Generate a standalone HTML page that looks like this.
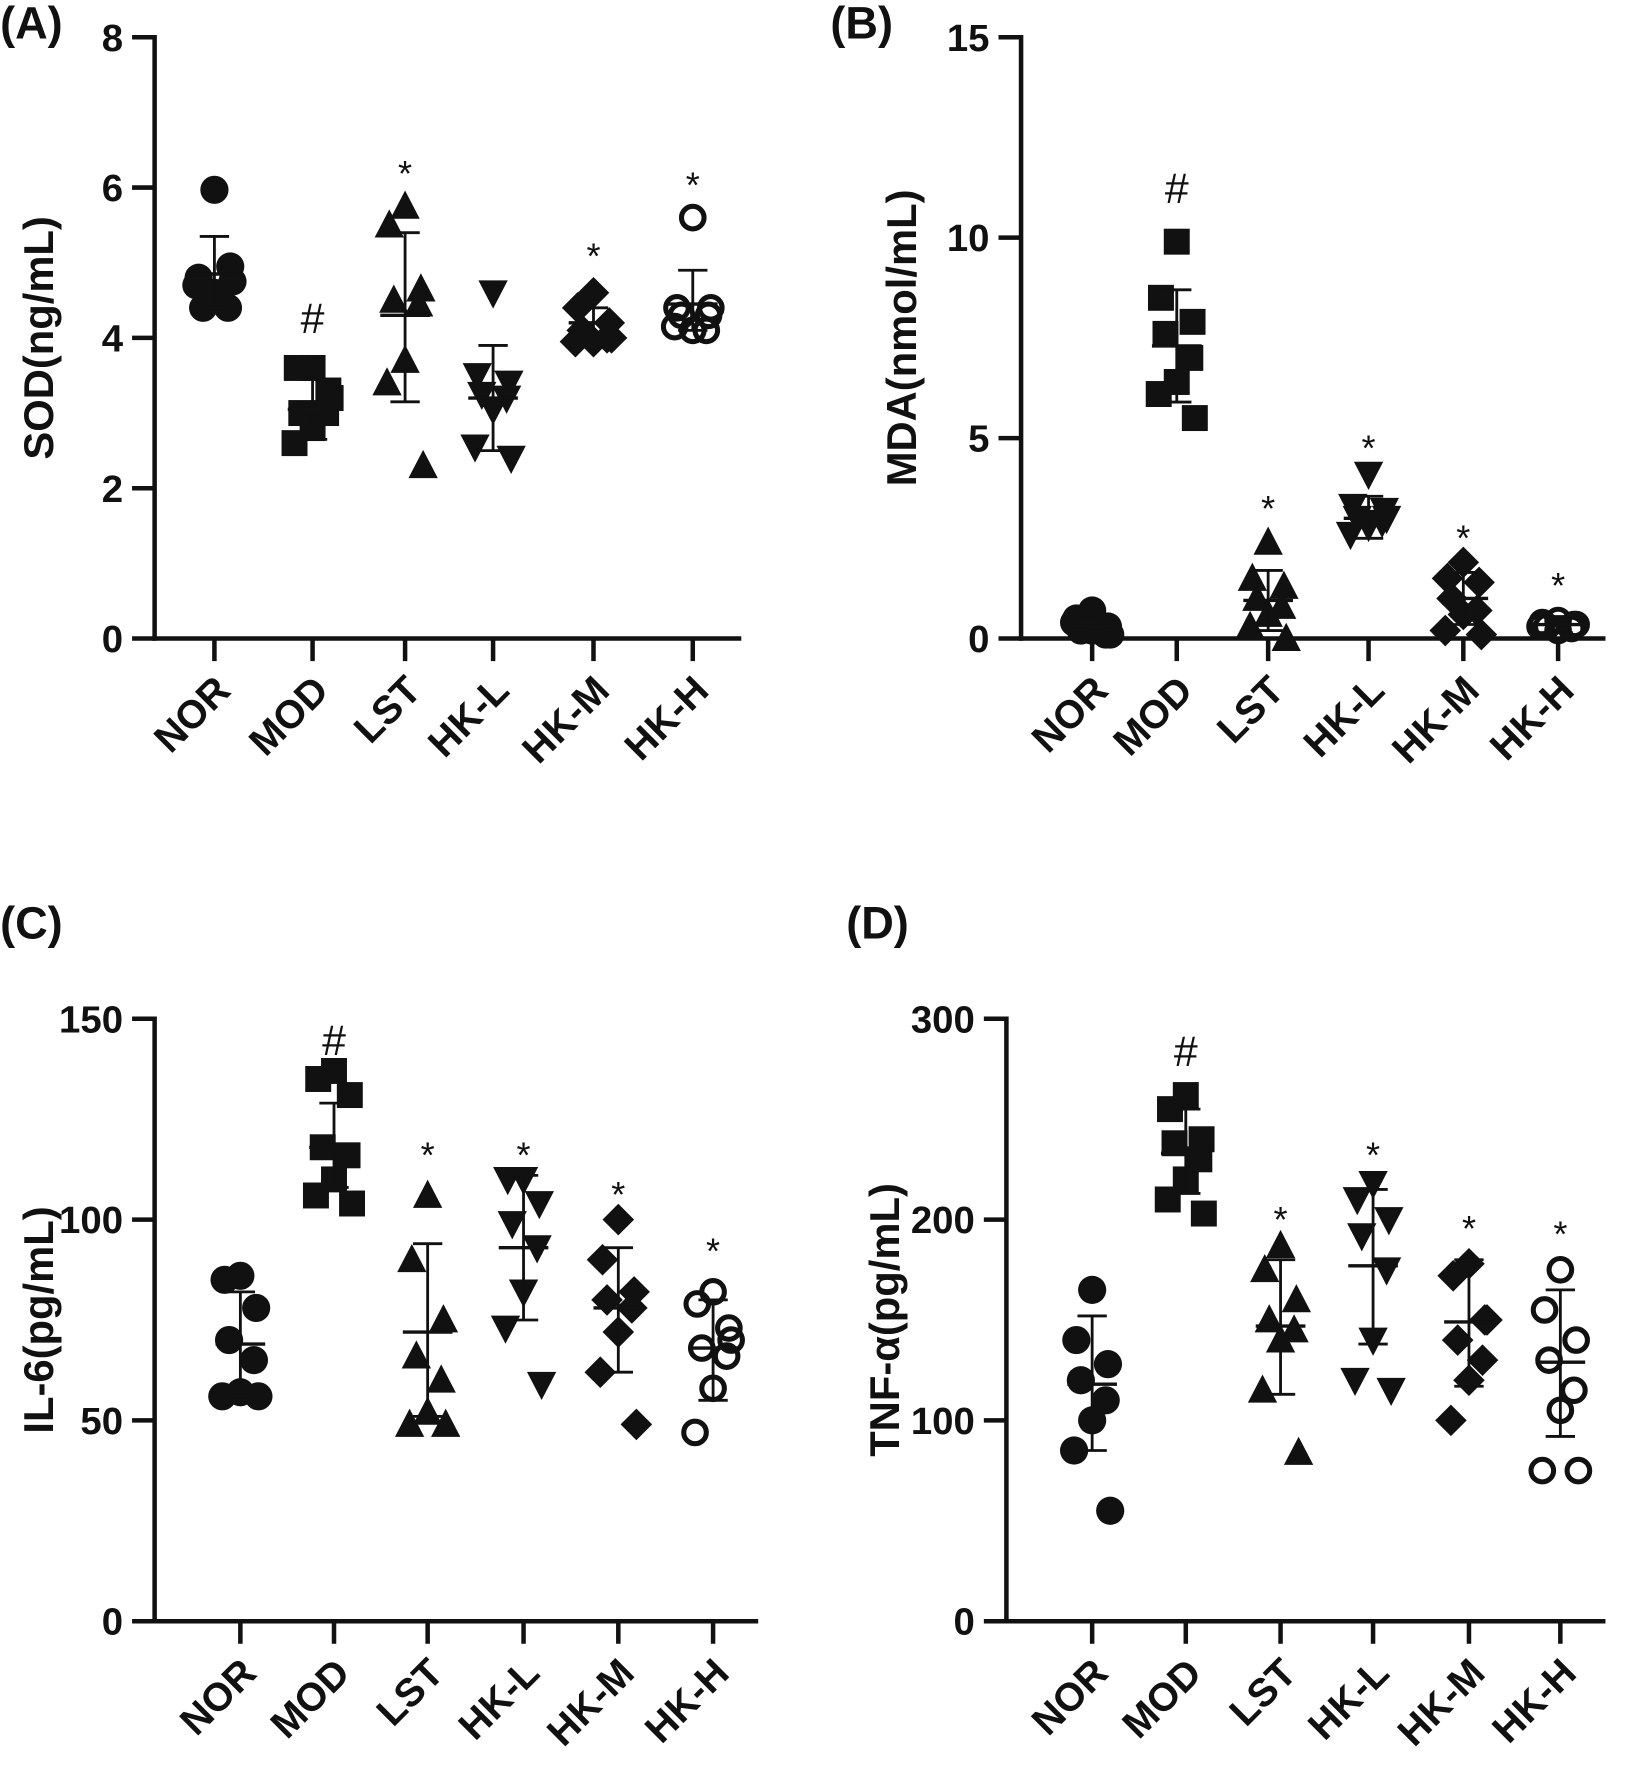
<!DOCTYPE html>
<html><head><meta charset="utf-8"><style>
html,body{margin:0;padding:0;background:#fff}
svg{display:block}
text{font-family:"Liberation Sans",Arial,sans-serif;font-weight:bold;fill:#111}
</style></head><body>
<svg id="s" width="1636" height="1769" viewBox="0 0 1450 1568" xmlns="http://www.w3.org/2000/svg"></svg>
<script>
const s=document.getElementById('s');let h='';
const cats=['NOR','MOD','LST','HK-L','HK-M','HK-H'];
const shapes=['c','s','t','v','d','o'];
function mk(sh,x,y){const r=12.5;
 if(sh=='c')return `<circle cx="${x}" cy="${y}" r="${r}" fill="#111"/>`;
 if(sh=='o')return `<circle cx="${x}" cy="${y}" r="${r-2.5}" fill="none" stroke="#111" stroke-width="4.5"/>`;
 if(sh=='s')return `<rect x="${x-r+1}" y="${y-r+1}" width="${2*r-2}" height="${2*r-2}" fill="#111"/>`;
 if(sh=='t')return `<polygon points="${x},${y-14} ${x-13},${y+11} ${x+13},${y+11}" fill="#111"/>`;
 if(sh=='v')return `<polygon points="${x},${y+14} ${x-13},${y-11} ${x+13},${y-11}" fill="#111"/>`;
 if(sh=='d')return `<polygon points="${x},${y-14} ${x-14},${y} ${x},${y+14} ${x+14},${y}" fill="#111"/>`;}
const offs=[0,-14,14,-10,12,0,-16,16];
function panel(p){
 const {ax,top,bot,x2,max,step,xs,lab,labx,ylab,data,marks}=p;
 const sc=v=>bot-(v/max)*(bot-top);
 h+=`<text x="${lab[2]}" y="${lab[1]}" font-size="40">${lab[0]}</text>`;
 h+=`<line x1="${ax}" y1="${top-2}" x2="${ax}" y2="${bot+2}" stroke="#111" stroke-width="4"/>`;
 h+=`<line x1="${ax-2}" y1="${bot}" x2="${x2}" y2="${bot}" stroke="#111" stroke-width="4"/>`;
 for(let v=0;v<=max;v+=step){const y=sc(v);
  h+=`<line x1="${ax-20}" y1="${y}" x2="${ax}" y2="${y}" stroke="#111" stroke-width="4"/>`;
  h+=`<text x="${ax-28}" y="${y+12}" font-size="34" text-anchor="end">${v}</text>`;}
 h+=`<text transform="translate(${labx},${(top+bot)/2}) rotate(-90)" font-size="37" text-anchor="middle">${ylab}</text>`;
 xs.forEach((x,i)=>{
  h+=`<line x1="${x}" y1="${bot}" x2="${x}" y2="${bot+20}" stroke="#111" stroke-width="4"/>`;
  h+=`<text transform="translate(${x+16},${bot+48}) rotate(-45)" font-size="35" text-anchor="end">${cats[i]}</text>`;
  const d=data[i];
  d.pts.forEach((v,j)=>{h+=mk(shapes[i],x+offs[j],sc(v));});
  h+=`<line x1="${x}" y1="${sc(d.hi)}" x2="${x}" y2="${sc(d.lo)}" stroke="#111" stroke-width="2.5"/>`;
  h+=`<line x1="${x-13}" y1="${sc(d.hi)}" x2="${x+13}" y2="${sc(d.hi)}" stroke="#111" stroke-width="2.5"/>`;
  h+=`<line x1="${x-13}" y1="${sc(d.lo)}" x2="${x+13}" y2="${sc(d.lo)}" stroke="#111" stroke-width="2.5"/>`;
  h+=`<line x1="${x-22}" y1="${sc(d.m)}" x2="${x+22}" y2="${sc(d.m)}" stroke="#111" stroke-width="3"/>`;
  if(marks[i]){const [c,y]=marks[i];
   h+=`<text x="${x}" y="${y}" font-size="${c=='#'?38:32}" text-anchor="middle" style="font-weight:normal">${c}</text>`;}
 });
}
panel({ax:137,top:33,bot:566,x2:657,max:8,step:2,xs:[190,277,359,437,526,614],lab:['(A)',34,0],labx:47,ylab:'SOD(ng/mL)',
 data:[{m:4.85,hi:5.35,lo:4.4,pts:[5.97,4.8,4.95,4.4,4.4,4.6,4.7,4.75]},
 {m:3.05,hi:3.45,lo:2.65,pts:[3.6,3.6,3.3,3.0,3.0,2.8,2.6,3.2]},
 {m:4.3,hi:5.4,lo:3.15,pts:[5.75,5.5,4.65,4.5,4.45,3.7,3.4,2.3]},
 {m:3.2,hi:3.9,lo:2.5,pts:[4.6,3.5,3.4,3.25,3.2,3.05,2.55,2.4]},
 {m:4.2,hi:4.4,lo:4.0,pts:[4.6,4.4,4.2,4.1,4.0,3.95,3.95,4.0]},
 {m:4.45,hi:4.9,lo:4.1,pts:[5.6,4.4,4.3,4.3,4.1,4.1,4.15,4.4]}],
 marks:[null,['#',295],['*',165],null,['*',238],['*',175]]});
panel({ax:905,top:33,bot:566,x2:1423,max:15,step:5,xs:[968,1043,1124,1213,1297,1381],lab:['(B)',34,736],labx:812,ylab:'MDA(nmol/mL)',
 data:[{m:0.3,hi:0.5,lo:0.1,pts:[0.7,0.5,0.3,0.2,0.1,0.2,0.4,0.1]},
 {m:7.3,hi:8.7,lo:5.9,pts:[9.9,8.5,7.9,7.6,7.0,6.4,6.1,5.5]},
 {m:0.95,hi:1.7,lo:0.2,pts:[2.4,1.5,1.3,1.0,0.8,0.6,0.3,0.0]},
 {m:3.0,hi:3.55,lo:2.5,pts:[4.1,3.3,3.2,3.0,2.9,2.8,2.6,3.0]},
 {m:1.0,hi:1.65,lo:0.35,pts:[1.9,1.5,1.4,1.0,0.7,0.6,0.2,0.1]},
 {m:0.35,hi:0.55,lo:0.15,pts:[0.45,0.4,0.35,0.3,0.25,0.2,0.3,0.35]}],
 marks:[null,['#',180],['*',462],['*',408],['*',488],['*',530]]});
panel({ax:137,top:903,bot:1437,x2:672,max:150,step:50,xs:[213,296,379,464,548,632],lab:['(C)',832,0],labx:47,ylab:'IL-6(pg/mL)',
 data:[{m:69,hi:82,lo:56,pts:[86,85,78,70,65,57,56,56]},
 {m:118,hi:129,lo:108,pts:[137,135,131,118,116,110,106,104]},
 {m:72,hi:94,lo:51,pts:[106,90,75,66,60,52,49,49]},
 {m:93,hi:111,lo:75,pts:[110,110,104,99,93,82,73,59]},
 {m:78,hi:93,lo:62,pts:[100,90,82,80,78,72,62,49]},
 {m:68,hi:80,lo:55,pts:[82,79,73,68,66,58,47,70]}],
 marks:[null,['#',935],['*',1035],['*',1035],['*',1070],['*',1120]]});
panel({ax:892,top:903,bot:1437,x2:1423,max:300,step:100,xs:[968,1051,1135,1217,1302,1383],lab:['(D)',832,750],labx:797,ylab:'TNF-α(pg/mL)',
 data:[{m:118,hi:152,lo:85,pts:[165,140,128,120,110,100,85,55]},
 {m:233,hi:255,lo:213,pts:[262,255,240,238,230,220,210,203]},
 {m:147,hi:180,lo:113,pts:[187,175,160,150,145,140,115,84]},
 {m:177,hi:215,lo:138,pts:[218,210,200,192,175,140,120,115]},
 {m:149,hi:180,lo:117,pts:[178,172,150,140,130,120,100,150]},
 {m:129,hi:165,lo:92,pts:[175,155,140,130,115,105,75,75]}],
 marks:[null,['#',945],['*',1092],['*',1035],['*',1100],['*',1105]]});
s.innerHTML=h;
</script>
</body></html>
